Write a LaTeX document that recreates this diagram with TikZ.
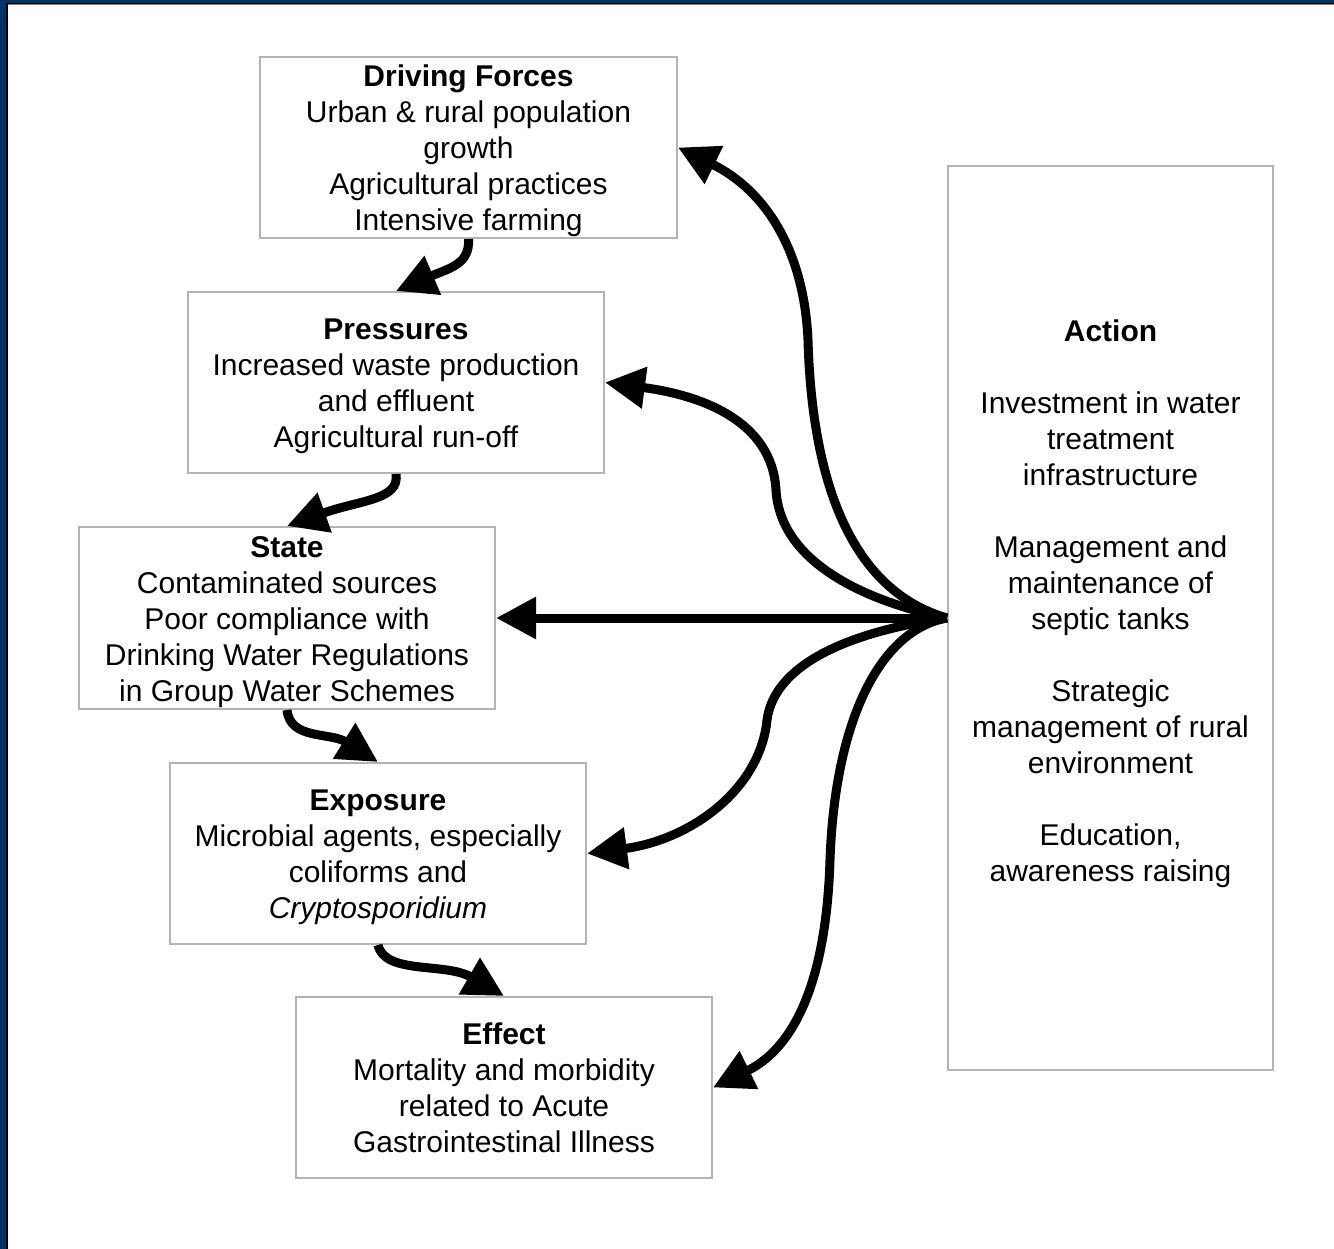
\documentclass[tikz,border=0pt]{standalone}
\usepackage{fontspec}
\setmainfont{Liberation Sans}
\usetikzlibrary{arrows.meta}
\definecolor{boxgray}{RGB}{180,180,180}
\definecolor{frameblue}{RGB}{0,51,102}
\newcommand{\lnstrut}{\rule[-7pt]{0pt}{36pt}}
\tikzset{
  box/.style={draw=boxgray, line width=2pt, fill=white, align=center, inner sep=0pt,
    font=\fontsize{30}{36}\selectfont},
  flow/.style={line width=9pt, -{Triangle[length=40pt,width=40pt]}},
}
\begin{document}
\begin{tikzpicture}[x=1pt,y=-1pt]
\useasboundingbox (0,0) rectangle (1334,1249);
\fill[white] (0,0) rectangle (1334,1249);
% frame (top and left only)
\fill[frameblue] (0,0) rectangle (1334,3);
\fill[black] (0,3) rectangle (1334,4);
\fill[gray] (0,4) rectangle (1334,5);
\fill[frameblue] (0,0) rectangle (6,1249);
\fill[black] (6,3) rectangle (8,1249);

\node[box, minimum width=417pt, minimum height=181pt] (df) at (468.5,147.5)
  {\lnstrut\textbf{Driving Forces}\\Urban \& rural population\\growth\\Agricultural practices\\\lnstrut Intensive farming};
\node[box, minimum width=416pt, minimum height=181pt] (pr) at (396,382.5)
  {\lnstrut\textbf{Pressures}\\Increased waste production\\and effluent\\\lnstrut Agricultural run-off};
\node[box, minimum width=416pt, minimum height=182pt] (st) at (287,618)
  {\lnstrut\textbf{State}\\Contaminated sources\\Poor compliance with\\Drinking Water Regulations\\\lnstrut in Group Water Schemes};
\node[box, minimum width=416pt, minimum height=181pt] (ex) at (378,853.5)
  {\lnstrut\textbf{Exposure}\\Microbial agents, especially\\coliforms and\\\lnstrut\textit{Cryptosporidium}};
\node[box, minimum width=416pt, minimum height=181pt] (ef) at (504,1087.5)
  {\lnstrut\textbf{Effect}\\Mortality and morbidity\\related to Acute\\\lnstrut Gastrointestinal Illness};
\node[box, minimum width=325pt, minimum height=904pt] (act) at (1110.5,618)
  {\lnstrut\textbf{Action}\\[36pt]Investment in water\\treatment\\infrastructure\\[36pt]Management and\\maintenance of\\septic tanks\\[36pt]Strategic\\management of rural\\environment\\[36pt]Education,\\awareness raising\\\lnstrut};

% chain arrows
\draw[flow] (df.south) .. controls (470,264) and (450,268) .. (pr.north);
\draw[flow] (pr.south) .. controls (400,500) and (360,500) .. (st.north);
\draw[flow] (st.south) .. controls (290,740) and (330,732) .. (ex.north);
\draw[flow] (ex.south) .. controls (385,975) and (445,962) .. (ef.north);

% action arrows
\draw[flow] (act.west) .. controls (850,590) and (812,480) .. (808,340)
  .. controls (804,250) and (765,190) .. (df.east);
\draw[flow] (act.west) .. controls (860,600) and (780,560) .. (776,490)
  .. controls (772,420) and (700,395) .. (pr.east);
\draw[flow] (act.west) -- (st.east);
\draw[flow] (act.west) .. controls (860,630) and (775,660) .. (767,720)
  .. controls (760,790) and (690,840) .. (ex.east);
\draw[flow] (act.west) .. controls (880,630) and (835,720) .. (830,860)
  .. controls (826,990) and (790,1050) .. (ef.east);
\end{tikzpicture}
\end{document}
